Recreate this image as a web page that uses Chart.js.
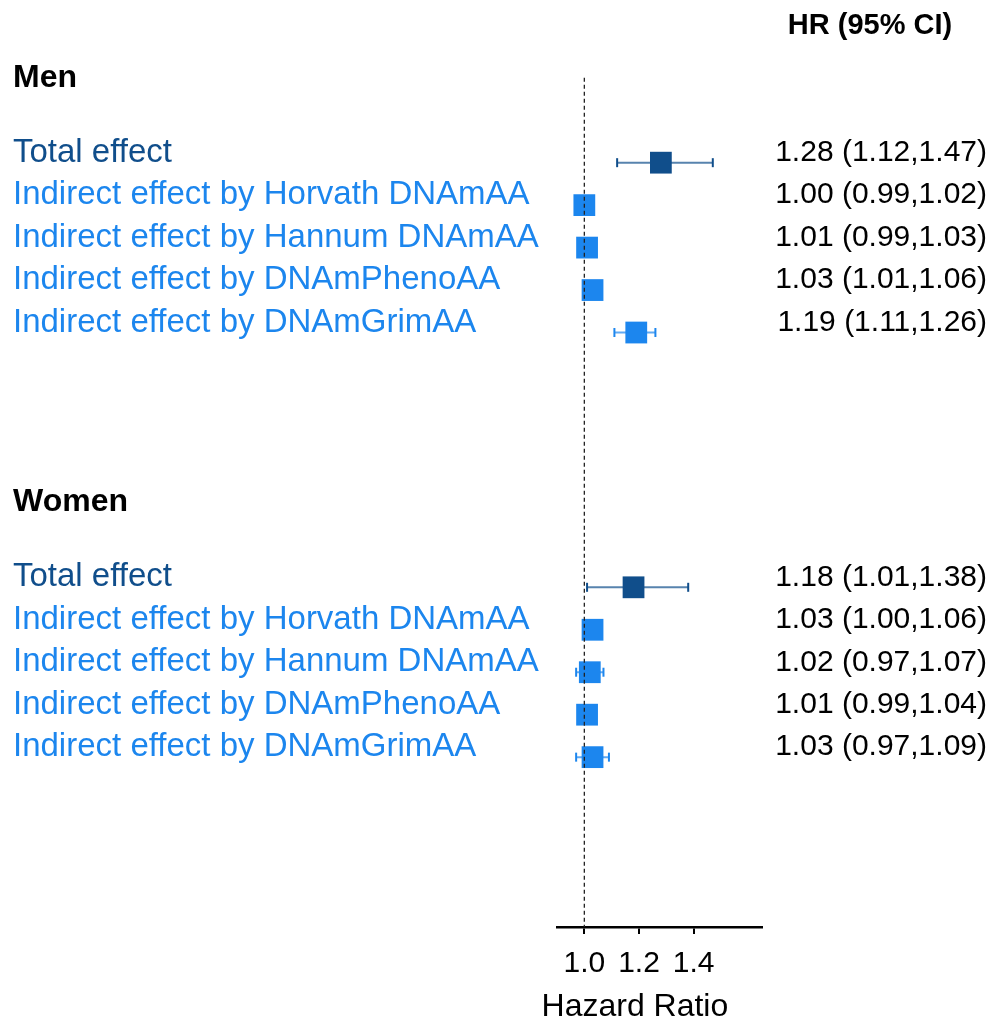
<!DOCTYPE html>
<html>
<head>
<meta charset="utf-8">
<script src="https://cdn.jsdelivr.net/npm/chart.js@4.4.1/dist/chart.umd.min.js"></script>
<style>
  html, body { margin: 0; padding: 0; background: #fff; }
  #wrap { width: 991px; height: 1023px; }
</style>
</head>
<body>
<div id="wrap"><canvas id="forest"></canvas></div>
<script>
// data
const groupNames = ['Men', 'Women'];
const effectLabels = [
  'Total effect',
  'Indirect effect by Horvath DNAmAA',
  'Indirect effect by Hannum DNAmAA',
  'Indirect effect by DNAmPhenoAA',
  'Indirect effect by DNAmGrimAA'
];
const menHR    = [1.28, 1.00, 1.01, 1.03, 1.19];
const menLow   = [1.12, 0.99, 0.99, 1.01, 1.11];
const menHigh  = [1.47, 1.02, 1.03, 1.06, 1.26];
const womenHR   = [1.18, 1.03, 1.02, 1.01, 1.03];
const womenLow  = [1.01, 1.00, 0.97, 0.99, 0.97];
const womenHigh = [1.38, 1.06, 1.07, 1.04, 1.09];
const xTicks = [1.0, 1.2, 1.4];

const FONT = '"Liberation Sans", Arial, sans-serif';
const DARK = '#104E8B';
const LIGHT = '#1C86EE';
const DARK_LINE = 'rgba(16,78,139,0.7)';
const LIGHT_LINE = 'rgba(28,134,238,0.7)';

// row layout (one row per line of the table)
const ROW_MIN = -1.36, ROW_MAX = 20;
const groupRow = [0, 10];
const LABEL_SHIFT = 0.235;   // text sits slightly above the box centre

const groups = [
  { hr: menHR, lo: menLow, hi: menHigh },
  { hr: womenHR, lo: womenLow, hi: womenHigh }
];

const leftTicks = [], rightTicks = [];
const boxDark = [], boxLight = [], ciDark = [], ciLight = [], capDark = [], capLight = [];

groups.forEach((g, gi) => {
  leftTicks.push({ value: groupRow[gi], text: groupNames[gi], color: '#000', bold: true });
  effectLabels.forEach((lab, i) => {
    const row = groupRow[gi] + 2 + i;
    const total = i === 0;
    leftTicks.push({ value: row - LABEL_SHIFT, text: lab, color: total ? DARK : LIGHT, bold: false });
    rightTicks.push({
      value: row - LABEL_SHIFT,
      text: g.hr[i].toFixed(2) + ' (' + g.lo[i].toFixed(2) + ',' + g.hi[i].toFixed(2) + ')'
    });
    (total ? boxDark : boxLight).push({ x: g.hr[i], y: row });
    const ci = total ? ciDark : ciLight;
    ci.push({ x: g.lo[i], y: row }, { x: g.hi[i], y: row }, { x: null, y: null });
    const cap = total ? capDark : capLight;
    cap.push({ x: g.lo[i], y: row }, { x: g.hi[i], y: row });
  });
});

function leftFont(ctx) {
  const t = leftTicks[ctx.index];
  if (t && t.bold) return { family: FONT, size: 32, weight: 'bold' };
  return { family: FONT, size: 33, weight: 'normal' };
}
function leftColor(ctx) {
  const t = leftTicks[ctx.index];
  return t ? t.color : '#000';
}

const textPlugin = {
  id: 'extraText',
  afterDraw(chart) {
    const c = chart.ctx;
    const x = chart.scales.x, y = chart.scales.y;
    c.save();
    c.fillStyle = '#000';
    c.textBaseline = 'middle';
    c.textAlign = 'center';
    c.font = 'bold 29px ' + FONT;
    c.fillText('HR (95% CI)', 870, y.getPixelForValue(-1.22));
    c.font = '32px ' + FONT;
    c.fillText('Hazard Ratio', x.getPixelForValue(1.185), 1007);
    c.restore();
  }
};

new Chart(document.getElementById('forest'), {
  type: 'scatter',
  data: {
    datasets: [
      { data: [{ x: 1, y: 0 }, { x: 1, y: ROW_MAX }], showLine: true, borderColor: '#222',
        borderWidth: 1.3, borderDash: [4, 3], pointRadius: 0, order: -1 },
      { data: boxDark, pointStyle: 'rect', pointRadius: 15.4, backgroundColor: DARK,
        borderColor: DARK, borderWidth: 0, order: 0 },
      { data: boxLight, pointStyle: 'rect', pointRadius: 15.4, backgroundColor: LIGHT,
        borderColor: LIGHT, borderWidth: 0, order: 0 },
      { data: ciDark, showLine: true, spanGaps: false, borderColor: DARK_LINE, borderWidth: 2,
        pointRadius: 0, order: 2 },
      { data: ciLight, showLine: true, spanGaps: false, borderColor: LIGHT_LINE, borderWidth: 2,
        pointRadius: 0, order: 2 },
      { data: capDark, pointStyle: 'line', rotation: 90, pointRadius: 4.5, borderColor: DARK,
        borderWidth: 2, order: 1 },
      { data: capLight, pointStyle: 'line', rotation: 90, pointRadius: 4.5, borderColor: LIGHT,
        borderWidth: 2, order: 1 }
    ]
  },
  options: {
    responsive: true,
    maintainAspectRatio: false,
    animation: false,
    events: [],
    layout: { padding: { left: 13, right: 4, top: 20, bottom: 0 } },
    plugins: { legend: { display: false }, tooltip: { enabled: false } },
    scales: {
      x: {
        type: 'linear', min: 0.9, max: 1.65,
        afterBuildTicks: s => { s.ticks = xTicks.map(v => ({ value: v })); },
        afterFit: s => { s.height = 96; s.paddingLeft = 0; s.paddingRight = 0; },
        ticks: {
          autoSkip: false, padding: 12, color: '#000',
          font: { family: FONT, size: 30 },
          callback: v => v.toFixed(1)
        },
        grid: { drawOnChartArea: false, drawTicks: true, tickLength: 7, color: '#000', lineWidth: 2 },
        border: { color: '#000', width: 2.5 }
      },
      y: {
        type: 'linear', position: 'left', reverse: true, min: ROW_MIN, max: ROW_MAX,
        afterBuildTicks: s => { s.ticks = leftTicks.map(t => ({ value: t.value })); },
        afterFit: s => { s.width = 544; s.paddingTop = 0; s.paddingBottom = 0; },
        ticks: {
          autoSkip: false, crossAlign: 'far', padding: 0,
          callback: (v, i) => leftTicks[i].text,
          color: leftColor,
          font: leftFont
        },
        grid: { display: false },
        border: { display: false }
      },
      yr: {
        type: 'linear', position: 'right', reverse: true, min: ROW_MIN, max: ROW_MAX,
        afterBuildTicks: s => { s.ticks = rightTicks.map(t => ({ value: t.value })); },
        afterFit: s => { s.width = 225; s.paddingTop = 0; s.paddingBottom = 0; },
        ticks: {
          autoSkip: false, crossAlign: 'far', padding: 0, color: '#000',
          callback: (v, i) => rightTicks[i].text,
          font: { family: FONT, size: 30 }
        },
        grid: { display: false },
        border: { display: false }
      }
    }
  },
  plugins: [textPlugin]
});
</script>
</body>
</html>
